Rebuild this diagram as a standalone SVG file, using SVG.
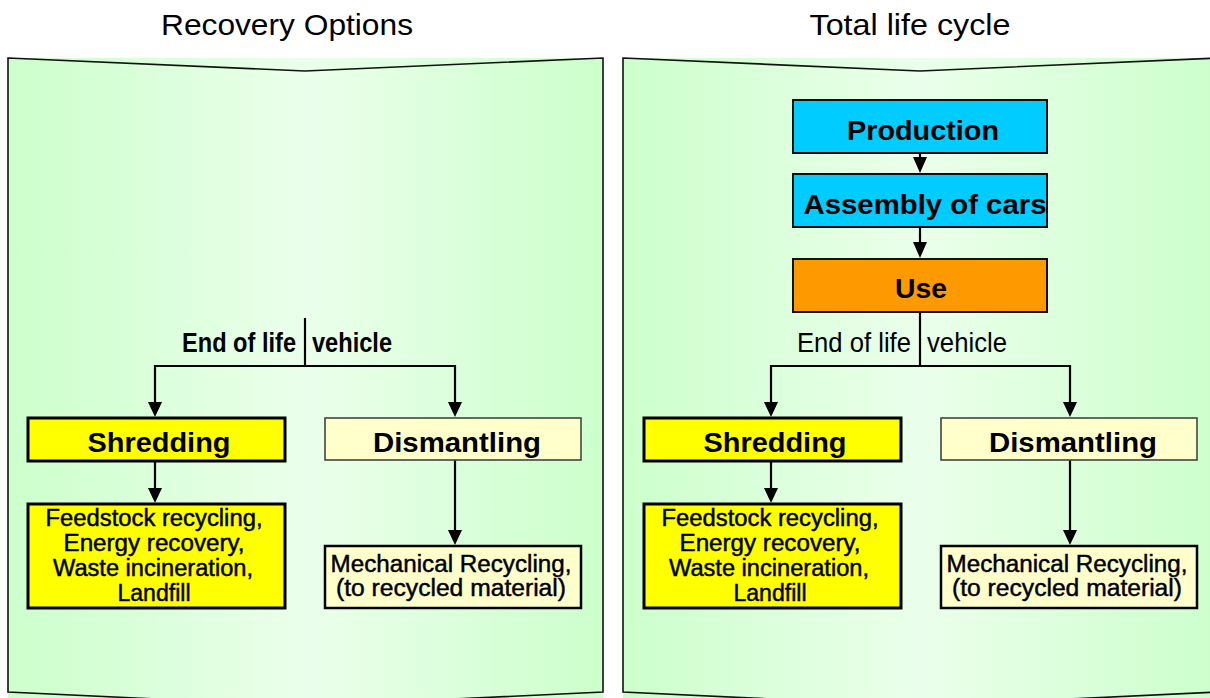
<svg xmlns="http://www.w3.org/2000/svg" width="1210" height="698" viewBox="0 0 1210 698">
  <style>
    .title { font-family: "Liberation Sans", Arial, sans-serif; font-size: 29px; fill: #000; text-anchor: middle; }
    .head { font-family: "Liberation Sans", Arial, sans-serif; font-size: 28px; font-weight: bold; fill: #000; text-anchor: middle; }
    .narrow { font-family: "Liberation Sans Narrow", "Liberation Sans", Arial, sans-serif; font-size: 23px; fill: #000; stroke: #000; stroke-width: 0.45; text-anchor: middle; }
    .branch { font-family: "Liberation Sans Narrow", "Liberation Sans", Arial, sans-serif; font-size: 28px; fill: #000; text-anchor: middle; }
    .nb { font-weight: bold; }
    .panel-fill { fill: url(#panelGrad); }
    .panel-edge { fill: none; stroke: #111; stroke-width: 1.6; stroke-linejoin: miter; }
    .conn { fill: none; stroke: #000; stroke-width: 2.2; }
    .box-y { fill: #ffff00; stroke: #000; stroke-width: 3; }
    .box-c { fill: #ffffcc; stroke: #000; stroke-width: 2.5; }
    .box-cl { fill: #ffffcc; stroke: #444; stroke-width: 1.6; }
    .box-b { fill: #00ccff; stroke: #111; stroke-width: 2; }
    .box-o { fill: #ff9900; stroke: #111; stroke-width: 2; }
  </style>
  <defs>
    <linearGradient id="panelGrad" x1="0" y1="0" x2="1" y2="0">
      <stop offset="0" stop-color="#ccffcc"/>
      <stop offset="0.5" stop-color="#ebffeb"/>
      <stop offset="1" stop-color="#ccffcc"/>
    </linearGradient>
  </defs>

  <rect width="1210" height="698" fill="#fff"/>

  <!-- titles -->
  <text class="title" x="287" y="35" textLength="252" lengthAdjust="spacingAndGlyphs">Recovery Options</text>
  <text class="title" x="910" y="35" textLength="201" lengthAdjust="spacingAndGlyphs">Total life cycle</text>

  <!-- panels: downward chevron outline over a rectangular gradient -->
  <g id="panel-left">
    <rect class="panel-fill" x="8" y="58" width="595" height="645"/>
    <path class="panel-edge" d="M8,58 L305,71 L603,58 L603,692 L305,706 L8,692 Z"/>
  </g>
  <g id="panel-right">
    <rect class="panel-fill" x="623" y="58" width="595" height="645"/>
    <path class="panel-edge" d="M623,58 L920,71 L1218,58 L1218,692 L920,706 L623,692 Z"/>
  </g>

  <!-- connectors -->
  <g id="connectors">
    <!-- left tree -->
    <path class="conn" d="M305,318 V366"/>
    <path class="conn" d="M155,366 H455"/>
    <path class="conn" d="M155,365 V402"/>
    <polygon points="148,402 162,402 155,417"/>
    <path class="conn" d="M455,365 V402"/>
    <polygon points="448,402 462,402 455,417"/>
    <path class="conn" d="M155,462 V488"/>
    <polygon points="148,488 162,488 155,503"/>
    <path class="conn" d="M455,460 V530"/>
    <polygon points="448,530 462,530 455,545"/>

    <!-- right chain -->
    <path class="conn" d="M920,153 V158"/>
    <polygon points="913,157 927,157 920,173"/>
    <path class="conn" d="M920,227 V242"/>
    <polygon points="913,242 927,242 920,258"/>
    <path class="conn" d="M920,312 V366"/>
    <path class="conn" d="M771,366 H1070"/>
    <path class="conn" d="M771,365 V402"/>
    <polygon points="764,402 778,402 771,417"/>
    <path class="conn" d="M1070,365 V402"/>
    <polygon points="1063,402 1077,402 1070,417"/>
    <path class="conn" d="M771,462 V488"/>
    <polygon points="764,488 778,488 771,503"/>
    <path class="conn" d="M1070,460 V530"/>
    <polygon points="1063,530 1077,530 1070,545"/>
  </g>

  <!-- branch labels -->
  <g id="label-left">
    <text class="branch nb" x="239" y="352" textLength="114" lengthAdjust="spacingAndGlyphs">End of life</text>
    <text class="branch nb" x="352" y="352" textLength="80" lengthAdjust="spacingAndGlyphs">vehicle</text>
  </g>
  <g id="label-right">
    <text class="branch" x="854" y="352" textLength="114" lengthAdjust="spacingAndGlyphs">End of life</text>
    <text class="branch" x="967" y="352" textLength="80" lengthAdjust="spacingAndGlyphs">vehicle</text>
  </g>

  <!-- left column nodes -->
  <g id="shredding-left">
    <rect class="box-y" x="28" y="418" width="257" height="43"/>
    <text class="head" x="159" y="452" textLength="143" lengthAdjust="spacingAndGlyphs">Shredding</text>
  </g>
  <g id="dismantling-left">
    <rect class="box-cl" x="325" y="418" width="256" height="42"/>
    <text class="head" x="457" y="452" textLength="168" lengthAdjust="spacingAndGlyphs">Dismantling</text>
  </g>
  <g id="recovery-left">
    <rect class="box-y" x="28" y="504" width="257" height="104"/>
    <text class="narrow" x="154" y="526" textLength="217" lengthAdjust="spacingAndGlyphs">Feedstock recycling,</text>
    <text class="narrow" x="154" y="551" textLength="181" lengthAdjust="spacingAndGlyphs">Energy recovery,</text>
    <text class="narrow" x="153" y="576" textLength="200" lengthAdjust="spacingAndGlyphs">Waste incineration,</text>
    <text class="narrow" x="154" y="601" textLength="73" lengthAdjust="spacingAndGlyphs">Landfill</text>
  </g>
  <g id="mechanical-left">
    <rect class="box-c" x="325" y="546" width="256" height="62"/>
    <text class="narrow" x="451" y="572" textLength="241" lengthAdjust="spacingAndGlyphs">Mechanical Recycling,</text>
    <text class="narrow" x="451" y="596" textLength="230" lengthAdjust="spacingAndGlyphs">(to recycled material)</text>
  </g>

  <!-- right column nodes -->
  <g id="production">
    <rect class="box-b" x="793" y="100" width="254" height="53"/>
    <text class="head" x="923" y="140" textLength="152" lengthAdjust="spacingAndGlyphs">Production</text>
  </g>
  <g id="assembly">
    <rect class="box-b" x="793" y="174" width="254" height="53"/>
    <text class="head" x="925" y="214" textLength="243" lengthAdjust="spacingAndGlyphs">Assembly of cars</text>
  </g>
  <g id="use">
    <rect class="box-o" x="793" y="259" width="254" height="53"/>
    <text class="head" x="921" y="298" textLength="52" lengthAdjust="spacingAndGlyphs">Use</text>
  </g>
  <g id="shredding-right">
    <rect class="box-y" x="644" y="418" width="257" height="43"/>
    <text class="head" x="775" y="452" textLength="143" lengthAdjust="spacingAndGlyphs">Shredding</text>
  </g>
  <g id="dismantling-right">
    <rect class="box-cl" x="941" y="418" width="256" height="42"/>
    <text class="head" x="1073" y="452" textLength="168" lengthAdjust="spacingAndGlyphs">Dismantling</text>
  </g>
  <g id="recovery-right">
    <rect class="box-y" x="644" y="504" width="257" height="104"/>
    <text class="narrow" x="770" y="526" textLength="217" lengthAdjust="spacingAndGlyphs">Feedstock recycling,</text>
    <text class="narrow" x="770" y="551" textLength="181" lengthAdjust="spacingAndGlyphs">Energy recovery,</text>
    <text class="narrow" x="769" y="576" textLength="200" lengthAdjust="spacingAndGlyphs">Waste incineration,</text>
    <text class="narrow" x="770" y="601" textLength="73" lengthAdjust="spacingAndGlyphs">Landfill</text>
  </g>
  <g id="mechanical-right">
    <rect class="box-c" x="941" y="546" width="256" height="62"/>
    <text class="narrow" x="1067" y="572" textLength="241" lengthAdjust="spacingAndGlyphs">Mechanical Recycling,</text>
    <text class="narrow" x="1067" y="596" textLength="230" lengthAdjust="spacingAndGlyphs">(to recycled material)</text>
  </g>
</svg>
